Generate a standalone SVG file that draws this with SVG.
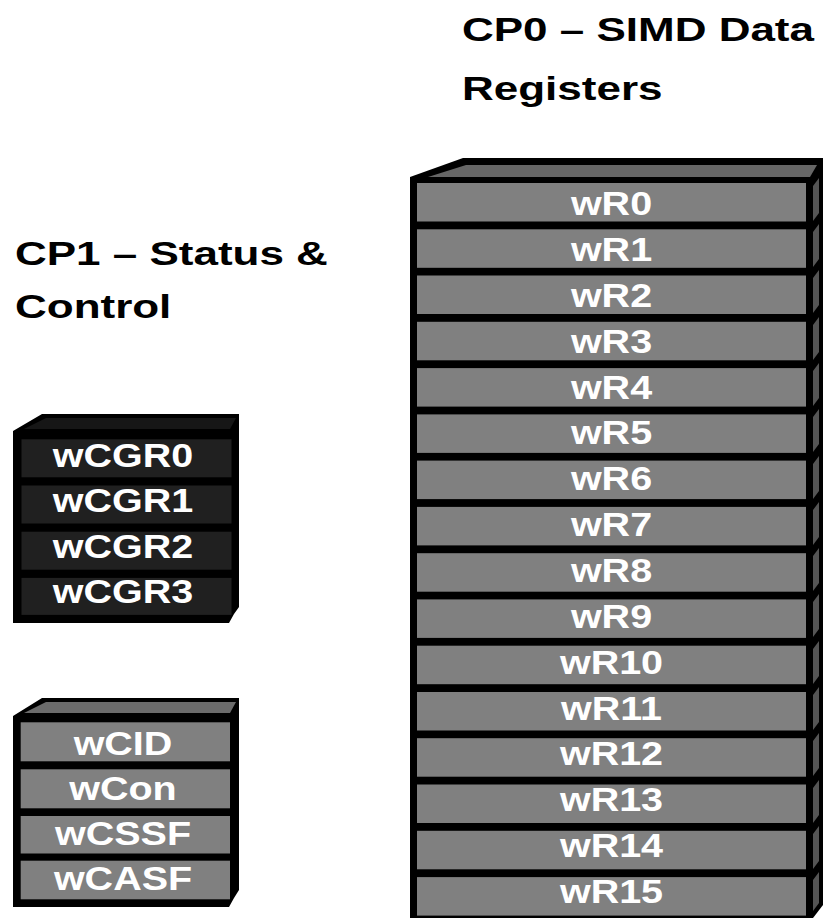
<svg xmlns="http://www.w3.org/2000/svg" width="823" height="918" viewBox="0 0 823 918">
<style>
.title{font-family:"Liberation Sans",Arial,sans-serif;font-weight:bold;font-size:44px;fill:#000}
.lbl{font-family:"Liberation Sans",Arial,sans-serif;font-weight:bold;font-size:39.5px;fill:#fff;text-anchor:middle}
.frame{fill:#000}
.gcell{fill:#808080}
.dcell{fill:#202020}
.side{fill:#555}
</style>
<rect width="823" height="918" fill="#fff"/>

<g id="title-cp0">
<text class="title" transform="translate(462,40.7) scale(1,0.75)">CP0 – SIMD Data</text>
<text class="title" transform="translate(462,99.5) scale(1,0.75)">Registers</text>
</g>
<g id="title-cp1">
<text class="title" transform="translate(15,265) scale(1,0.75)">CP1 – Status &amp;</text>
<text class="title" transform="translate(15,318.3) scale(1,0.75)">Control</text>
</g>

<!-- CP0 big stack -->
<g id="cp0-stack">
<polygon class="frame" points="410,177 463,158 823,158 823,905 813,918 410,918"/>
<polygon fill="#666" points="428,177 466,165 817,165 810,177"/>
<g id="wR0"><rect class="gcell" x="417" y="183" width="389" height="38.5"/><polygon class="side" points="813,186 819,178 819,213 813,221"/><text class="lbl" transform="translate(611.5,215) scale(1,0.82)">wR0</text></g>
<g id="wR1"><rect class="gcell" x="417" y="229.3" width="389" height="38.5"/><polygon class="side" points="813,232 819,224 819,259 813,267"/><text class="lbl" transform="translate(611.5,260.9) scale(1,0.82)">wR1</text></g>
<g id="wR2"><rect class="gcell" x="417" y="275.5" width="389" height="38.5"/><polygon class="side" points="813,278 819,270 819,305 813,313"/><text class="lbl" transform="translate(611.5,306.7) scale(1,0.82)">wR2</text></g>
<g id="wR3"><rect class="gcell" x="417" y="321.8" width="389" height="38.5"/><polygon class="side" points="813,325 819,317 819,352 813,360"/><text class="lbl" transform="translate(611.5,352.6) scale(1,0.82)">wR3</text></g>
<g id="wR4"><rect class="gcell" x="417" y="368.1" width="389" height="38.5"/><polygon class="side" points="813,371 819,363 819,398 813,406"/><text class="lbl" transform="translate(611.5,398.5) scale(1,0.82)">wR4</text></g>
<g id="wR5"><rect class="gcell" x="417" y="414.4" width="389" height="38.5"/><polygon class="side" points="813,417 819,409 819,444 813,452"/><text class="lbl" transform="translate(611.5,444.4) scale(1,0.82)">wR5</text></g>
<g id="wR6"><rect class="gcell" x="417" y="460.6" width="389" height="38.5"/><polygon class="side" points="813,464 819,456 819,491 813,499"/><text class="lbl" transform="translate(611.5,490.2) scale(1,0.82)">wR6</text></g>
<g id="wR7"><rect class="gcell" x="417" y="506.9" width="389" height="38.5"/><polygon class="side" points="813,510 819,502 819,537 813,545"/><text class="lbl" transform="translate(611.5,536.1) scale(1,0.82)">wR7</text></g>
<g id="wR8"><rect class="gcell" x="417" y="553.2" width="389" height="38.5"/><polygon class="side" points="813,556 819,548 819,583 813,591"/><text class="lbl" transform="translate(611.5,582) scale(1,0.82)">wR8</text></g>
<g id="wR9"><rect class="gcell" x="417" y="599.4" width="389" height="38.5"/><polygon class="side" points="813,602 819,594 819,629 813,637"/><text class="lbl" transform="translate(611.5,627.8) scale(1,0.82)">wR9</text></g>
<g id="wR10"><rect class="gcell" x="417" y="645.7" width="389" height="38.5"/><polygon class="side" points="813,649 819,641 819,676 813,684"/><text class="lbl" transform="translate(611.5,673.7) scale(1,0.82)">wR10</text></g>
<g id="wR11"><rect class="gcell" x="417" y="692" width="389" height="38.5"/><polygon class="side" points="813,695 819,687 819,722 813,730"/><text class="lbl" transform="translate(611.5,719.6) scale(1,0.82)">wR11</text></g>
<g id="wR12"><rect class="gcell" x="417" y="738.2" width="389" height="38.5"/><polygon class="side" points="813,741 819,733 819,768 813,776"/><text class="lbl" transform="translate(611.5,765.4) scale(1,0.82)">wR12</text></g>
<g id="wR13"><rect class="gcell" x="417" y="784.5" width="389" height="38.5"/><polygon class="side" points="813,788 819,780 819,815 813,823"/><text class="lbl" transform="translate(611.5,811.3) scale(1,0.82)">wR13</text></g>
<g id="wR14"><rect class="gcell" x="417" y="830.8" width="389" height="38.5"/><polygon class="side" points="813,834 819,826 819,861 813,869"/><text class="lbl" transform="translate(611.5,857.2) scale(1,0.82)">wR14</text></g>
<g id="wR15"><rect class="gcell" x="417" y="877.1" width="389" height="38.5"/><polygon class="side" points="813,880 819,872 819,903 813,911"/><text class="lbl" transform="translate(611.5,903) scale(1,0.82)">wR15</text></g>
</g>

<!-- CP1 control stack -->
<g id="cgr-stack">
<polygon class="frame" points="13,431 42,414 239,414 239,607 234,614 229,623 13,623"/>
<polygon fill="#161616" points="24,429 46,418 236,418 230,429"/>
<g id="wCGR0"><rect class="dcell" x="21.5" y="439.3" width="210" height="38"/><text class="lbl" transform="translate(123,466.7) scale(1,0.82)">wCGR0</text></g>
<g id="wCGR1"><rect class="dcell" x="21.5" y="485.5" width="210" height="38"/><text class="lbl" transform="translate(123,511.7) scale(1,0.82)">wCGR1</text></g>
<g id="wCGR2"><rect class="dcell" x="21.5" y="531.7" width="210" height="38"/><text class="lbl" transform="translate(123,558.3) scale(1,0.82)">wCGR2</text></g>
<g id="wCGR3"><rect class="dcell" x="21.5" y="577.9" width="210" height="37"/><text class="lbl" transform="translate(123,603.3) scale(1,0.82)">wCGR3</text></g>
</g>

<!-- CP1 status stack -->
<g id="status-stack">
<polygon class="frame" points="13,716 42,698 239,698 239,890 234,898 229,907 13,907"/>
<polygon fill="#6b6b6b" points="24,713 46,702 236,702 230,713"/>
<g id="wCID"><rect class="gcell" x="20.7" y="722.3" width="209.3" height="39"/><text class="lbl" transform="translate(123,755) scale(1,0.82)">wCID</text></g>
<g id="wCon"><rect class="gcell" x="20.7" y="769.3" width="209.3" height="39"/><text class="lbl" transform="translate(123,800) scale(1,0.82)">wCon</text></g>
<g id="wCSSF"><rect class="gcell" x="20.7" y="816" width="209.3" height="37.5"/><text class="lbl" transform="translate(123,845) scale(1,0.82)">wCSSF</text></g>
<g id="wCASF"><rect class="gcell" x="20.7" y="860.7" width="209.3" height="38.6"/><text class="lbl" transform="translate(123,890) scale(1,0.82)">wCASF</text></g>
</g>
</svg>
